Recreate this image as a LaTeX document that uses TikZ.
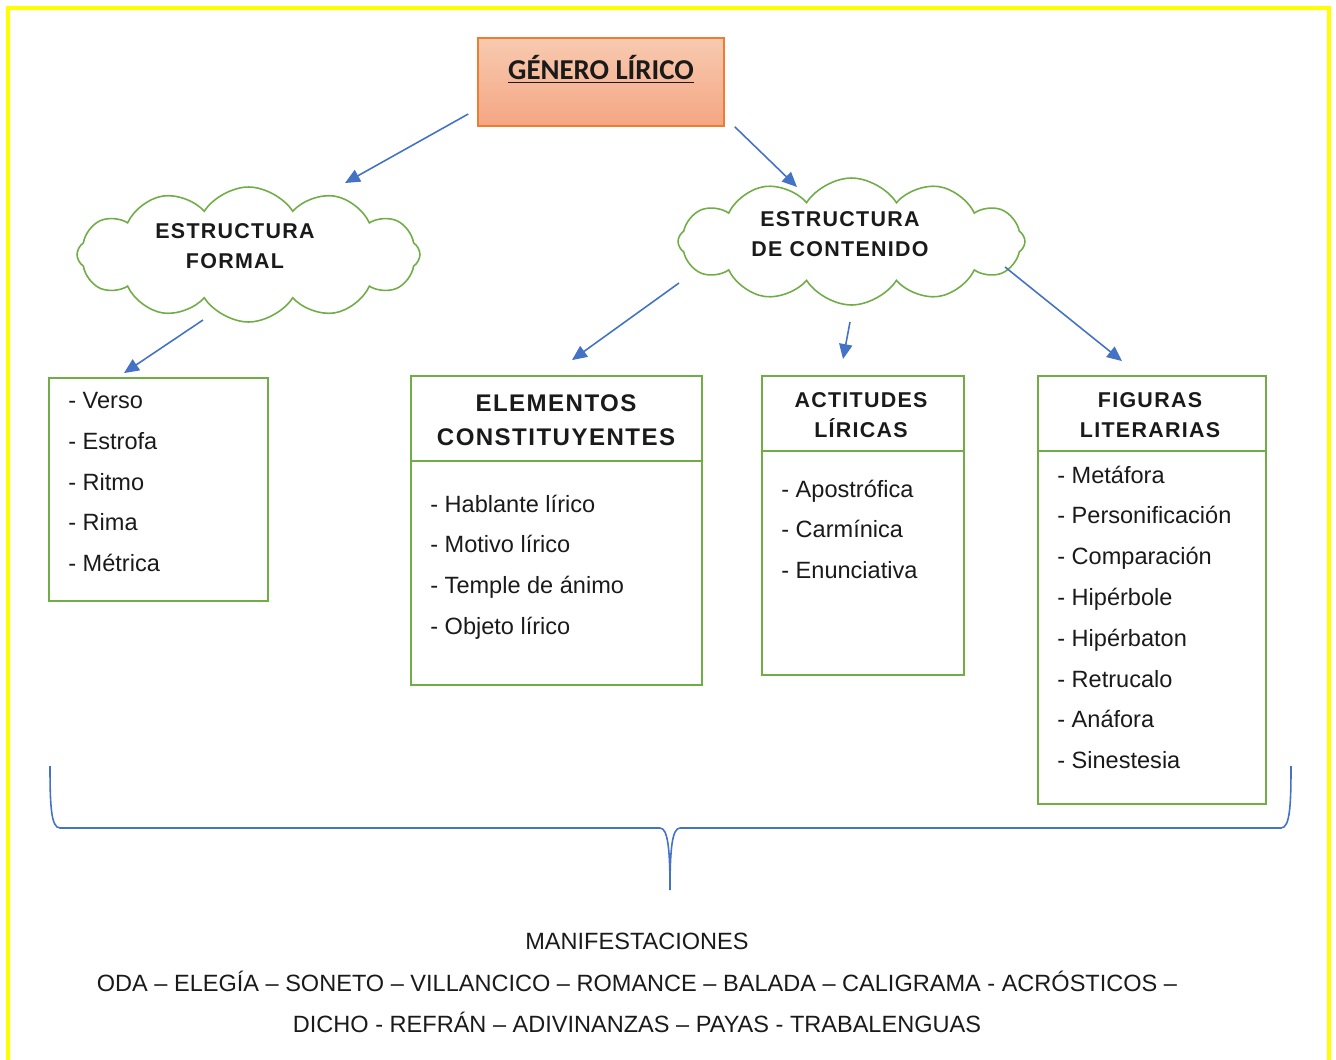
\documentclass[tikz,border=0pt]{standalone}
\usepackage{fontspec}
\setmainfont{Liberation Sans}
\newfontfamily\spacedfont[LetterSpace=6]{Liberation Sans}
\newfontfamily\titlefont{Carlito}
\usetikzlibrary{shapes.symbols,arrows.meta}
\definecolor{frameyellow}{HTML}{FFFF00}
\definecolor{boxgreen}{HTML}{70AD47}
\definecolor{arrowblue}{HTML}{4472C4}
\definecolor{salmontop}{HTML}{F8CAB0}
\definecolor{salmonbot}{HTML}{F4A683}
\definecolor{orangeline}{HTML}{ED7D31}
\definecolor{inktext}{HTML}{1A1A1A}
\tikzset{
	greenbox/.style={draw=boxgreen,line width=1.1pt,inner sep=0pt},
	greenline/.style={draw=boxgreen,line width=1.1pt},
	cloudbox/.style={cloud,cloud puffs=12,cloud puff arc=115,cloud ignores aspect,draw=boxgreen,line width=0.9pt,inner sep=0pt},
	arr/.style={arrowblue,line width=0.9pt,-{Triangle[length=8.5pt,width=7.5pt]}},
	itemlist/.style={anchor=north west,align=left,inner sep=0pt,text=inktext,font=\fontsize{13.4}{23.2}\selectfont},
	headtext/.style={align=center,inner sep=0pt,text=inktext,font=\spacedfont\bfseries\fontsize{12.2}{17}\selectfont}
}
\begin{document}
\begin{tikzpicture}[x=0.02cm,y=-0.02cm]
	\useasboundingbox (0,0) rectangle (1336,1059);
	\draw[frameyellow,line width=2.3pt] (8,1080) -- (8,8) -- (1329,8) -- (1329,1080);

	\node[draw=orangeline,line width=0.9pt,top color=salmontop,bottom color=salmonbot,minimum width=4.92cm,minimum height=1.76cm] (top) at (601,82) {};
	\node[anchor=base,inner sep=0pt,text=inktext,font=\titlefont\bfseries\fontsize{16.4}{20}\selectfont] (toptxt) at (601,79.5) {\underline{GÉNERO LÍRICO}};

	\node[cloudbox,minimum width=6.86cm,minimum height=2.7cm] (cloudF) at (248.5,254.5) {};
	\node[headtext] (cloudFtxt) at (235,246) {ESTRUCTURA\\FORMAL};
	\node[cloudbox,minimum width=6.94cm,minimum height=2.54cm] (cloudC) at (851.5,241.5) {};
	\node[headtext] (cloudCtxt) at (840,234) {ESTRUCTURA\\DE CONTENIDO};

	\node[greenbox,minimum width=4.38cm,minimum height=4.46cm] (formal) at (158.5,489.5) {};
	\node[itemlist] (formallist) at (68,392) {- Verso\\- Estrofa\\- Ritmo\\- Rima\\- Métrica};

	\node[greenbox,minimum width=5.82cm,minimum height=6.18cm] (elem) at (556.5,530.5) {};
	\node[headtext,font=\spacedfont\bfseries\fontsize{13.7}{19.3}\selectfont] (elemhead) at (556,420) {ELEMENTOS\\CONSTITUYENTES};
	\draw[greenline] (elem.west |- 0,461) -- (elem.east |- 0,461);
	\node[itemlist] (elemlist) at (430,494.5) {- Hablante lírico\\- Motivo lírico\\- Temple de ánimo\\- Objeto lírico};

	\node[greenbox,minimum width=4.04cm,minimum height=5.98cm] (actit) at (863,525.5) {};
	\node[headtext] (actithead) at (861,415) {ACTITUDES\\LÍRICAS};
	\draw[greenline] (actit.west |- 0,451) -- (actit.east |- 0,451);
	\node[itemlist] (actitlist) at (781,479.5) {- Apostrófica\\- Carmínica\\- Enunciativa};

	\node[greenbox,minimum width=4.56cm,minimum height=8.56cm] (figur) at (1152,590) {};
	\node[headtext] (figurhead) at (1150,415) {FIGURAS\\LITERARIAS};
	\draw[greenline] (figur.west |- 0,451) -- (figur.east |- 0,451);
	\node[itemlist] (figurlist) at (1057,465.5) {- Metáfora\\- Personificación\\- Comparación\\- Hipérbole\\- Hipérbaton\\- Retrucalo\\- Anáfora\\- Sinestesia};

	\draw[arr] ([shift={(-9,32)}]top.west) -- ([shift={(96.5,-71.5)}]cloudF.center);
	\draw[arr] ([shift={(10,0)}]top.south east) -- ([shift={(-54.5,-54.5)}]cloudC.center);
	\draw[arr] ([shift={(-45.5,65.5)}]cloudF.center) -- ([shift={(-34.5,-4)}]formal.north);
	\draw[arr] ([shift={(-172.5,41.5)}]cloudC.center) -- ([shift={(15.5,-15)}]elem.north);
	\draw[arr] ([shift={(-1.5,80.5)}]cloudC.center) -- ([shift={(-20,-16)}]actit.north);
	\draw[arr] ([shift={(153.5,25.5)}]cloudC.center) -- ([shift={(-30,-14)}]figur.north);

	\draw[arrowblue,line width=0.9pt] (50,766) .. controls (50,805) and (51,828) .. (60,828) -- (660,828) .. controls (668,828) and (670,850) .. (670,890) .. controls (670,850) and (672,828) .. (680,828) -- (1281,828) .. controls (1290,828) and (1291,805) .. (1291,766);

	\node[align=center,inner sep=0pt,text=inktext,font=\fontsize{13.4}{23.5}\selectfont] (manif) at (637,983) {MANIFESTACIONES\\ODA – ELEGÍA – SONETO – VILLANCICO – ROMANCE – BALADA – CALIGRAMA - ACRÓSTICOS –\\DICHO - REFRÁN – ADIVINANZAS – PAYAS - TRABALENGUAS};
\end{tikzpicture}
\end{document}
